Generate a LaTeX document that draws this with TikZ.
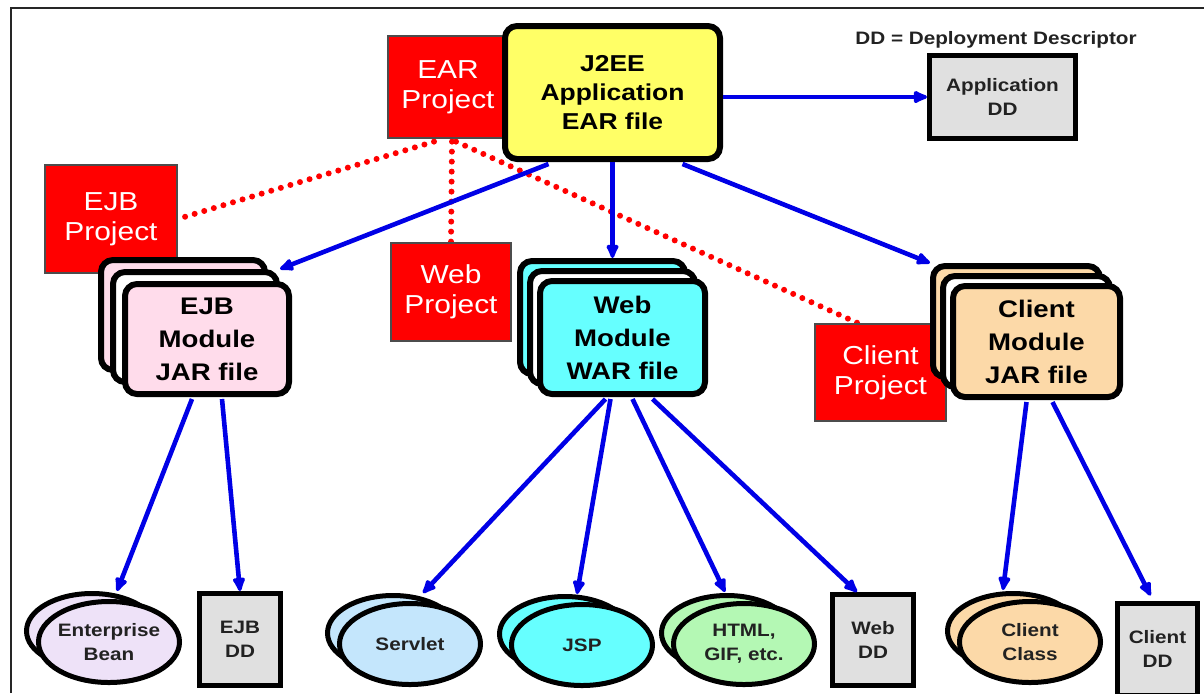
\documentclass[tikz,border=0pt]{standalone}
\usepackage{fontspec}
\setmainfont{Liberation Sans}[FakeStretch=1.15]
\usetikzlibrary{arrows.meta,calc,backgrounds,shapes.geometric}
\definecolor{j2yellow}{HTML}{FFFF66}
\definecolor{ejbpink}{HTML}{FFDCEB}
\definecolor{webcyan}{HTML}{66FFFF}
\definecolor{clitan}{HTML}{FCD9A8}
\definecolor{ddgray}{HTML}{E0E0E0}
\definecolor{beanlav}{HTML}{EEE2F8}
\definecolor{servblue}{HTML}{C4E6FC}
\definecolor{htmlgreen}{HTML}{B4F8B4}
\definecolor{arrowblue}{HTML}{0000E6}
\definecolor{projred}{HTML}{FF0000}
\definecolor{txtdark}{HTML}{222222}
\begin{document}
\begin{tikzpicture}[x=0.5pt,y=-0.5pt,
  proj/.style={draw=black!70, line width=0.6pt, fill=projred, text=white, align=center, inner sep=0pt,
    font=\fontsize{13}{15}\selectfont},
  modbox/.style={draw=black, line width=3pt, rounded corners=6pt, align=center, inner sep=0pt,
    font=\bfseries\fontsize{12}{16.5}\selectfont},
  ddbox/.style={draw=black, line width=2.5pt, fill=ddgray, align=center, inner sep=0pt, text=txtdark,
    font=\bfseries\fontsize{9}{12}\selectfont},
  ell/.style={ellipse, draw=black, line width=2.5pt, inner sep=0pt, minimum width=70.5pt, minimum height=40.5pt},
  ellback/.style={ellipse, draw=black, line width=2.5pt, inner sep=0pt, minimum width=65.5pt, minimum height=37.5pt},
  lbl/.style={align=center, text=txtdark, font=\bfseries\fontsize{9}{12}\selectfont},
  arr/.style={draw=arrowblue, line width=2.3pt, -{Latex[round,length=9pt,width=7.5pt]}},
  dotline/.style={draw=projred, line width=3pt, line cap=round, dash pattern=on 0pt off 5pt}
]
\useasboundingbox (0,0) rectangle (1204,693);
% frame
\draw[line width=1.2pt, black!85] (11,693) -- (11,8) -- (1204,8);

% top row
\node[proj, minimum width=60pt, minimum height=51pt] (earp) at (448,87) {EAR\\Project};
\node[modbox, fill=j2yellow, minimum width=107.5pt, minimum height=66.5pt,
  font=\bfseries\fontsize{11.5}{14.5}\selectfont] (j2ee) at (612.5,92.5) {J2EE\\Application\\EAR file};
\node[font=\bfseries\fontsize{9}{11}\selectfont, text=txtdark] (ddnote) at (996,40) {DD = Deployment Descriptor};
\node[ddbox, minimum width=73pt, minimum height=41.5pt] (appdd) at (1002.5,97) {Application\\DD};

% projects
\node[proj, minimum width=66pt, minimum height=54pt] (ejbp) at (111,219) {EJB\\Project};
\node[proj, minimum width=60pt, minimum height=49pt] (webp) at (451,292) {Web\\Project};
\node[proj, minimum width=65.5pt, minimum height=48.5pt] (clip) at (880.5,372.5) {Client\\Project};

% EJB module stack
\node[modbox, fill=ejbpink, minimum width=82pt, minimum height=55pt] (ejbmC) at (183,315) {};
\node[modbox, fill=white, minimum width=82pt, minimum height=55pt] (ejbmB) at (195,327) {};
\node[modbox, fill=ejbpink, minimum width=82pt, minimum height=55pt] (ejbm) at (207,339) {EJB\\Module\\JAR file};

% Web module stack
\node[modbox, fill=webcyan, minimum width=82.5pt, minimum height=56.5pt] (webmC) at (602.5,317.5) {};
\node[modbox, fill=white, minimum width=82.5pt, minimum height=56.5pt] (webmB) at (612.5,327.5) {};
\node[modbox, fill=webcyan, minimum width=82.5pt, minimum height=56.5pt] (webm) at (622.5,337.5) {Web\\Module\\WAR file};

% Client module stack
\node[modbox, fill=clitan, minimum width=83.5pt, minimum height=55.5pt] (climC) at (1016.5,321.5) {};
\node[modbox, fill=white, minimum width=83.5pt, minimum height=55.5pt] (climB) at (1026.5,331.5) {};
\node[modbox, fill=clitan, minimum width=83.5pt, minimum height=55.5pt] (clim) at (1036.5,341.5) {Client\\Module\\JAR file};

% bottom row: ellipses
\node[ellback, fill=beanlav] (beanB) at (92,631) {};
\node[ell, fill=beanlav, label={[lbl]center:{Enterprise\\Bean}}] (bean) at (109,642) {};
\node[ellback, fill=servblue] (servletB) at (393,633) {};
\node[ell, fill=servblue, label={[lbl]center:Servlet}] (servlet) at (410,644) {};
\node[ellback, fill=webcyan] (jspB) at (565,634) {};
\node[ell, fill=webcyan, label={[lbl]center:JSP}] (jsp) at (582,645) {};
\node[ellback, fill=htmlgreen] (htmlB) at (727,633) {};
\node[ell, fill=htmlgreen, label={[lbl]center:{HTML,\\GIF, etc.}}] (html) at (744,644) {};
\node[ellback, fill=clitan] (cliclassB) at (1013,631) {};
\node[ell, fill=clitan, label={[lbl]center:{Client\\Class}}] (cliclass) at (1030,642) {};

% bottom row: DD boxes
\node[ddbox, minimum width=40.5pt, minimum height=46pt] (ejbdd) at (240,639.5) {EJB\\DD};
\node[ddbox, minimum width=40.5pt, minimum height=45.5pt] (webdd) at (873,640) {Web\\DD};
\node[ddbox, minimum width=40pt, minimum height=46pt] (clidd) at (1157.5,649) {Client\\DD};

% red dotted project links
\begin{scope}[on background layer]
\draw[dotline] ($(earp.south)+(-14,3)$) -- (ejbp.east);
\draw[dotline] ($(earp.south)+(4,3)$) -- (webp.north);
\draw[dotline] ($(earp.south)+(8,3)$) -- ($(clip.north)+(-22,0)$);
\end{scope}

% blue arrows
\draw[arr] ($(j2ee.south)+(-64,2)$) -- (ejbmB.north east);
\draw[arr] (j2ee.south) -- (j2ee.south |- webmC.north);
\draw[arr] ($(j2ee.south)+(70,2)$) -- (climC.north west);
\draw[arr] (j2ee.east |- appdd.west) -- (appdd.west);

\draw[arr] ($(ejbm.south)+(-15,2)$) -- ($(bean.north)+(8,-8)$);
\draw[arr] ($(ejbm.south)+(15,2)$) -- (ejbdd.north);

\draw[arr] ($(webm.south)+(-17,2)$) -- ($(servlet.north)+(13,-8)$);
\draw[arr] ($(webm.south)+(-12,2)$) -- ($(jsp.north)+(-5,-8)$);
\draw[arr] ($(webm.south)+(10,2)$) -- ($(html.north)+(-19,-9)$);
\draw[arr] ($(webm.south)+(30,2)$) -- ($(webdd.north)+(-16,0)$);

\draw[arr] ($(clim.south)+(-10,2)$) -- ($(cliclass.north)+(-27,-9)$);
\draw[arr] ($(clim.south)+(16,2)$) -- ($(clidd.north)+(-7,-5)$);
\end{tikzpicture}
\end{document}
